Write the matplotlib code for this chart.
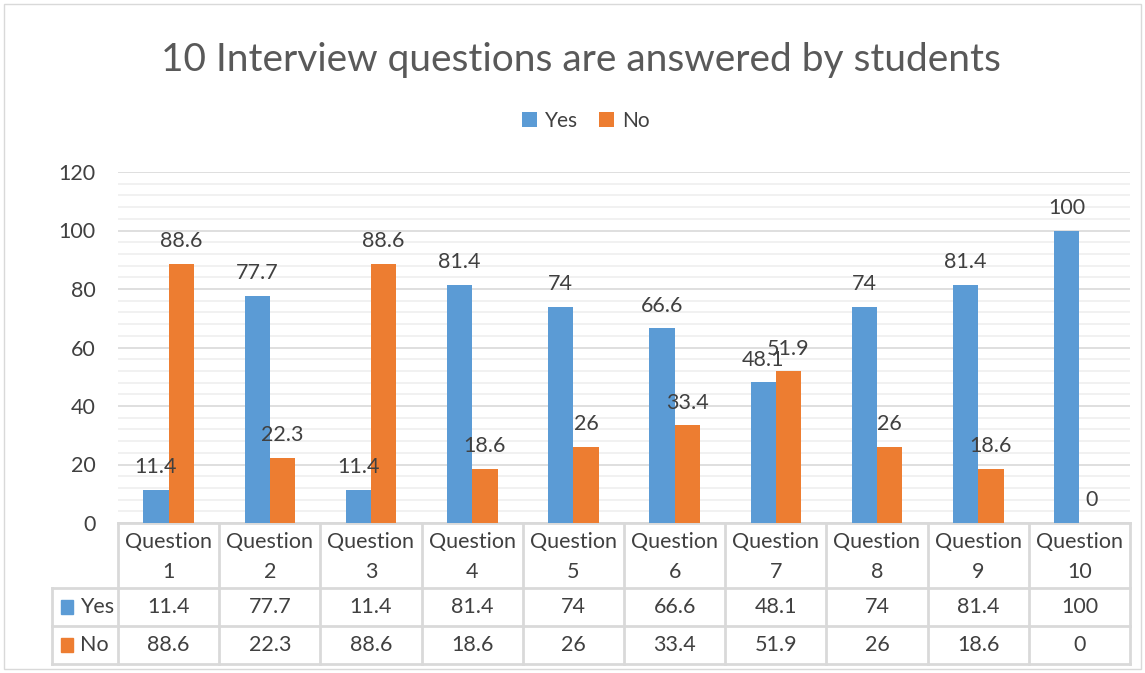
import matplotlib.pyplot as plt
from matplotlib.patches import Rectangle
import numpy as np

categories = ['Question\n1', 'Question\n2', 'Question\n3', 'Question\n4', 'Question\n5',
              'Question\n6', 'Question\n7', 'Question\n8', 'Question\n9', 'Question\n10']
yes_vals = [11.4, 77.7, 11.4, 81.4, 74, 66.6, 48.1, 74, 81.4, 100]
no_vals = [88.6, 22.3, 88.6, 18.6, 26, 33.4, 51.9, 26, 18.6, 0]
series_names = ['Yes', 'No']
colors = ['#5B9BD5', '#ED7D31']

plt.rcParams['font.family'] = ['Lato', 'DejaVu Sans']
txt = '#404040'
grid_major = '#D9D9D9'
grid_minor = '#EFEFEF'
fs = 15.5

W, H = 1145, 673
fig = plt.figure(figsize=(W / 100, H / 100), dpi=100)
left, right, top, bottom = 118, 1130, 172, 523
ax = fig.add_axes([left / W, 1 - bottom / H, (right - left) / W, (bottom - top) / H])

x = np.arange(len(categories))
w = 0.25
for vals, off, c, name in zip([yes_vals, no_vals], [-w / 2, w / 2], colors, series_names):
    bars = ax.bar(x + off, vals, w, color=c, label=name, zorder=3)
    for b, v in zip(bars, vals):
        # Q7 labels overlap in the original Excel chart as well
        ax.annotate(f'{v:g}', (b.get_x() + b.get_width() / 2, v), xytext=(0, 9),
                    textcoords='offset points', ha='center', va='bottom',
                    fontsize=fs, color=txt, zorder=6)

ax.set_xlim(-0.5, len(categories) - 0.5)
ax.set_ylim(0, 120)
ax.set_yticks(range(0, 121, 20))
ax.set_yticks(range(0, 121, 4), minor=True)
ax.tick_params(axis='y', which='both', length=0, labelsize=fs, labelcolor=txt, pad=16)
ax.tick_params(axis='x', length=0, labelbottom=False)
ax.grid(axis='y', which='major', color=grid_major, lw=1.2, zorder=0)
ax.grid(axis='y', which='minor', color=grid_minor, lw=1.2, zorder=0)
for s in ax.spines.values():
    s.set_visible(False)

# data table under the axis
ph = bottom - top
def ay(py):
    return -(py - bottom) / ph

tr = ax.get_xaxis_transform()
row_lines = [523, 588, 626, 664]
lc = '#D9D9D9'
ax.plot([-0.5, len(categories) - 0.5], [0, 0], transform=tr, color=lc, lw=2, clip_on=False)
xl = -0.5 - (left - 52) / (right - left) * len(categories)
for py in row_lines[1:]:
    ax.plot([xl, len(categories) - 0.5], [ay(py)] * 2, transform=tr, color=lc, lw=2, clip_on=False)
for i in range(len(categories) + 1):
    ax.plot([i - 0.5] * 2, [0, ay(664)], transform=tr, color=lc, lw=2, clip_on=False)
ax.plot([xl] * 2, [ay(588), ay(664)], transform=tr, color=lc, lw=2, clip_on=False)

for i, cat in enumerate(categories):
    ax.text(i, ay(557), cat, transform=tr, ha='center', va='center', fontsize=fs,
            color=txt, linespacing=1.65)
    ax.text(i, ay(607), f'{yes_vals[i]:g}', transform=tr, ha='center', va='center',
            fontsize=fs, color=txt)
    ax.text(i, ay(645), f'{no_vals[i]:g}', transform=tr, ha='center', va='center',
            fontsize=fs, color=txt)

for name, c, py in zip(series_names, colors, [607, 645]):
    fig.patches.append(Rectangle((61 / W, 1 - (py + 7) / H), 12 / W, 14 / H,
                                 transform=fig.transFigure, color=c))
    fig.text(80 / W, 1 - py / H, name, ha='left', va='center', fontsize=fs, color=txt)

fig.text(581 / W, 1 - 60 / H, '10 Interview questions are answered by students',
         ha='center', va='center', fontsize=28, color='#595959')
fig.legend(loc='center', bbox_to_anchor=(586 / W, 1 - 121 / H), ncol=2, frameon=False,
           fontsize=15, labelcolor=txt, handlelength=0.7, handleheight=0.7,
           handletextpad=0.4, columnspacing=1.0)

fig.patches.append(Rectangle((4 / W, 4 / H), (W - 8) / W, (H - 8) / H,
                             transform=fig.transFigure, fill=False, edgecolor='#D9D9D9', lw=1))

fig.savefig('out.png', dpi=100)
